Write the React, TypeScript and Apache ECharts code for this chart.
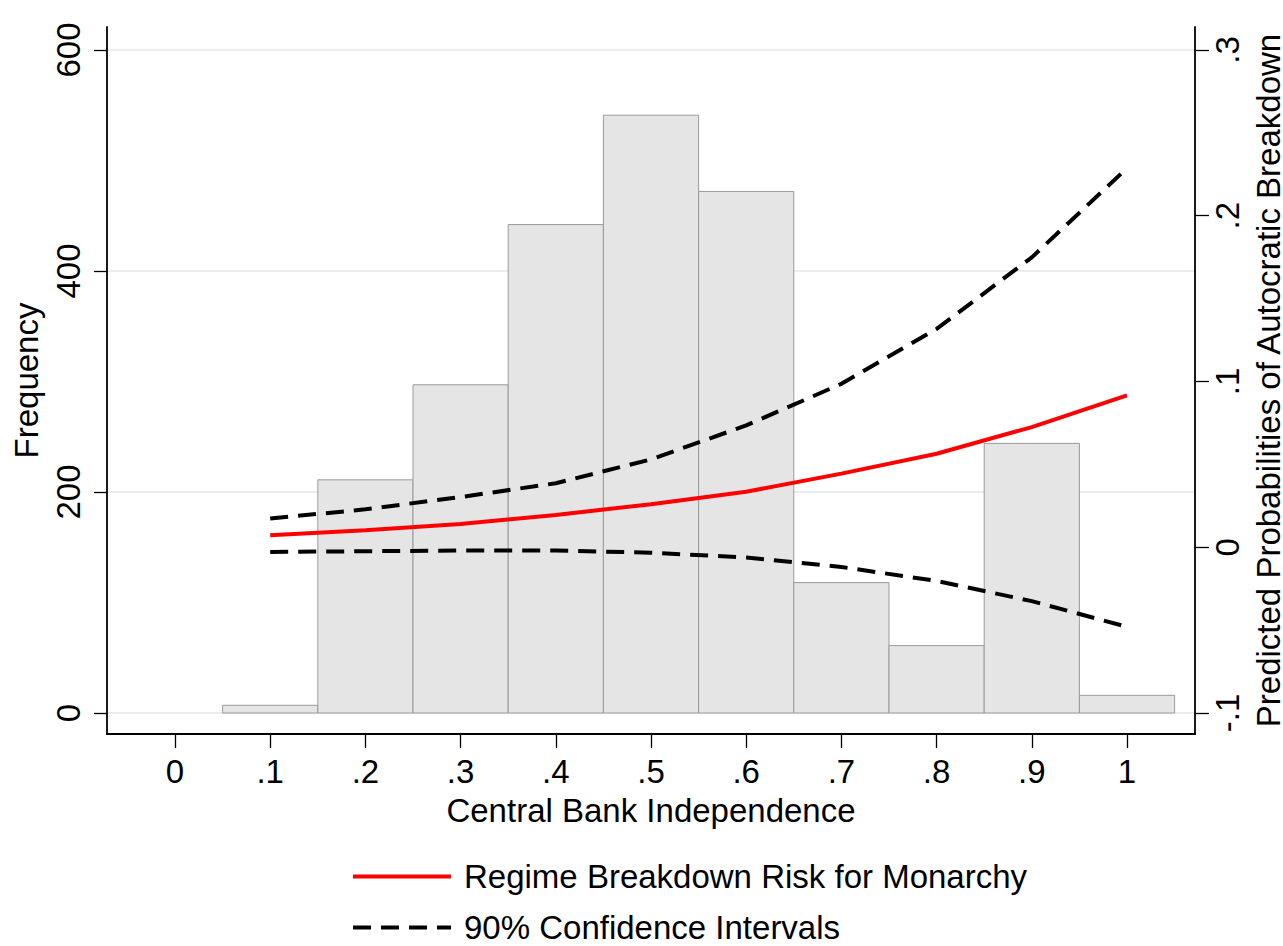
import React, { useEffect, useRef } from "react";
import * as echarts from "echarts";

// ---- Data ----
const cbi = [0.1, 0.2, 0.3, 0.4, 0.5, 0.6, 0.7, 0.8, 0.9, 1.0];
const binWidth = 0.1;
const frequency = [7, 211, 297, 442, 541, 472, 118, 61, 244, 16];
const riskMonarchy = [0.0072, 0.0103, 0.014, 0.0195, 0.026, 0.0335, 0.0444, 0.0564, 0.0725, 0.0916];
const ciUpper = [0.0173, 0.0229, 0.0303, 0.0386, 0.053, 0.0735, 0.0986, 0.1317, 0.1749, 0.2287];
const ciLower = [-0.0028, -0.0024, -0.002, -0.002, -0.0033, -0.0062, -0.0119, -0.0203, -0.0325, -0.048];

const xTicks = [0, 0.1, 0.2, 0.3, 0.4, 0.5, 0.6, 0.7, 0.8, 0.9, 1];
const freqTicks = [0, 200, 400, 600];
const probTicks = [-0.1, 0, 0.1, 0.2, 0.3];

const riskName = "Regime Breakdown Risk for Monarchy";
const ciName = "90% Confidence Intervals";

// axis ranges (Stata-like padding around the data)
const xMin = -1 / 14;
const xMax = 15 / 14;
const freqMin = -19;
const freqMax = 620.8;
// right axis aligned so that -.1 <-> 0 and .3 <-> 600
const toProb = (f: number) => -0.1 + (f / 600) * 0.4;
const probMin = toProb(freqMin);
const probMax = toProb(freqMax);

const FONT = "'Liberation Sans', Arial, Helvetica, sans-serif";
const FS = 33;

const fmtDec = (v: number) => {
  const n = Math.round(v * 10);
  if (n === 0) return "0";
  if (n === 10) return "1";
  return (n < 0 ? "-" : "") + "." + Math.abs(n);
};

export default function App() {
  const ref = useRef<HTMLDivElement>(null);

  useEffect(() => {
    if (!ref.current) return;
    const chart = echarts.init(ref.current, null, { renderer: "svg" });

    const textBase = { fontFamily: FONT, fontSize: FS, color: "#000" };

    chart.setOption({
      animation: false,
      backgroundColor: "#fff",
      grid: { left: 107, right: 88, top: 27, bottom: 212, containLabel: false, outerBoundsMode: "none" },
      legend: {
        data: [riskName, ciName],
        orient: "vertical",
        left: 351,
        top: 860,
        padding: 0,
        itemWidth: 98,
        itemHeight: 33,
        itemGap: 18,
        itemStyle: { opacity: 0 },
        lineStyle: { width: 4 },
        textStyle: { ...textBase, padding: [0, 0, 0, 8] },
        selectedMode: false,
      },
      xAxis: {
        type: "value",
        min: xMin,
        max: xMax,
        axisLine: { show: true, onZero: false, lineStyle: { color: "#000", width: 2 } },
        axisTick: { show: true, length: 14, customValues: xTicks, lineStyle: { color: "#000", width: 1.3 } },
        axisLabel: { customValues: xTicks, formatter: fmtDec, margin: 21, ...textBase },
        splitLine: { show: false },
        name: "Central Bank Independence",
        nameLocation: "middle",
        nameGap: 60,
        nameTextStyle: textBase,
      },
      yAxis: [
        {
          type: "value",
          position: "left",
          min: freqMin,
          max: freqMax,
          axisLine: { show: true, onZero: false, lineStyle: { color: "#000", width: 1.8 } },
          axisTick: { show: true, length: 13, customValues: freqTicks, lineStyle: { color: "#000", width: 1.3 } },
          axisLabel: { customValues: freqTicks, rotate: 90, margin: 22, ...textBase },
          splitLine: { show: true, lineStyle: { color: "#e6eef1", width: 2 } },
          name: "Frequency",
          nameLocation: "middle",
          nameRotate: 90,
          nameGap: 64,
          nameTextStyle: textBase,
        },
        {
          type: "value",
          position: "right",
          min: probMin,
          max: probMax,
          axisLine: { show: true, onZero: false, lineStyle: { color: "#000", width: 1.8 } },
          axisTick: { show: true, length: 14, customValues: probTicks, lineStyle: { color: "#000", width: 1.3 } },
          axisLabel: { customValues: probTicks, rotate: 90, margin: 16, formatter: fmtDec, ...textBase },
          splitLine: { show: false },
          name: "Predicted Probabilities of Autocratic Breakdown",
          nameLocation: "middle",
          nameRotate: 90,
          nameGap: 45,
          nameTextStyle: textBase,
        },
      ],
      series: [
        {
          type: "custom",
          name: "Frequency",
          xAxisIndex: 0,
          yAxisIndex: 0,
          encode: { x: 0, y: 1 },
          data: cbi.map((x, i) => [x, frequency[i]]),
          renderItem: (params: any, api: any) => {
            const x = api.value(0);
            const y = api.value(1);
            const p0 = api.coord([x - binWidth / 2, y]);
            const p1 = api.coord([x + binWidth / 2, 0]);
            return {
              type: "rect",
              shape: { x: p0[0], y: p0[1], width: p1[0] - p0[0], height: p1[1] - p0[1] },
              style: { fill: "#e5e5e5", stroke: "#9a9a9a", lineWidth: 1 },
            };
          },
          z: 1,
        },
        {
          type: "line",
          name: riskName,
          xAxisIndex: 0,
          yAxisIndex: 1,
          data: cbi.map((x, i) => [x, riskMonarchy[i]]),
          symbol: "none",
          smooth: false,
          lineStyle: { color: "#ff0000", width: 4 },
          itemStyle: { color: "#ff0000" },
          z: 3,
        },
        {
          type: "line",
          name: ciName,
          xAxisIndex: 0,
          yAxisIndex: 1,
          data: cbi.map((x, i) => [x, ciUpper[i]]),
          symbol: "none",
          lineStyle: { color: "#000", width: 4, type: [18, 10] },
          itemStyle: { color: "#000" },
          z: 3,
        },
        {
          type: "line",
          name: ciName,
          xAxisIndex: 0,
          yAxisIndex: 1,
          data: cbi.map((x, i) => [x, ciLower[i]]),
          symbol: "none",
          lineStyle: { color: "#000", width: 4, type: [18, 10] },
          itemStyle: { color: "#000" },
          z: 3,
        },
      ],
    });

    return () => chart.dispose();
  }, []);

  return (
    <div
      ref={ref}
      style={{ position: "absolute", left: 0, top: 0, width: 1283, height: 946, background: "#fff" }}
    />
  );
}
